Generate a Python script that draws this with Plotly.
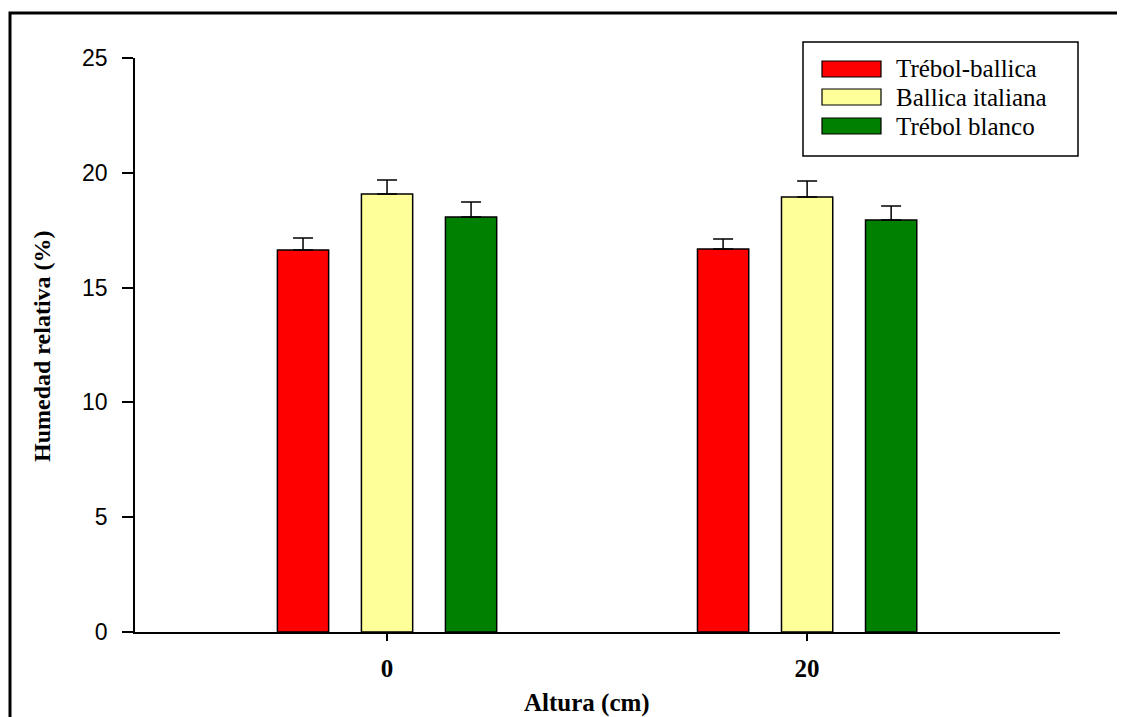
import plotly.graph_objects as go

categories = ["0", "20"]
series_names = ["Trébol-ballica", "Ballica italiana", "Trébol blanco"]
colors = ["#FF0000", "#FFFF99", "#008000"]
values = [
    [16.64, 16.68],
    [19.08, 18.95],
    [18.07, 17.94],
]
errors = [
    [0.52, 0.44],
    [0.61, 0.69],
    [0.66, 0.61],
]
y_ticks = [0, 5, 10, 15, 20, 25]

OFF = 8  # page body margin
W, H = 1125 - OFF, 717 - OFF
# plot area in screen pixels
PX0, PX1, PY0, PY1 = 135, 1060, 58, 632
L, R, T, B = PX0 - OFF, W - (PX1 - OFF), PY0 - OFF, H - (PY1 - OFF)
pw, ph = PX1 - PX0, PY1 - PY0

fig = go.Figure()
for name, col, v, e in zip(series_names, colors, values, errors):
    fig.add_trace(go.Bar(
        x=categories, y=v, name=name,
        marker=dict(color=col, line=dict(color="black", width=1.5)),
        error_y=dict(type="data", array=e, symmetric=False, arrayminus=[0] * len(e),
                     color="black", thickness=1.5, width=10),
        showlegend=False,
    ))

def px_x(x):
    return (x - PX0) / pw

def px_y(y):
    return (PY1 - y) / ph

shapes = [
    dict(type="rect", xref="paper", yref="paper",
         x0=px_x(10), x1=px_x(1140), y0=px_y(13), y1=px_y(740),
         line=dict(color="black", width=3), fillcolor="rgba(0,0,0,0)", layer="below"),
    dict(type="rect", xref="paper", yref="paper",
         x0=px_x(803), x1=px_x(1078), y0=px_y(42), y1=px_y(156),
         line=dict(color="black", width=1.5), fillcolor="white"),
]
annotations = []
row_y = [69, 97, 126]
for name, col, ry in zip(series_names, colors, row_y):
    shapes.append(dict(type="rect", xref="paper", yref="paper",
                       x0=px_x(822), x1=px_x(881), y0=px_y(ry - 8), y1=px_y(ry + 8),
                       line=dict(color="black", width=1.2), fillcolor=col))
    annotations.append(dict(xref="paper", yref="paper", x=px_x(894), y=px_y(ry),
                            text=name, showarrow=False, xanchor="left", yanchor="middle",
                            font=dict(family="Liberation Serif", size=25, color="black")))

annotations.append(dict(xref="paper", yref="paper", x=px_x(587), y=px_y(703),
                        text="<b>Altura (cm)</b>", showarrow=False,
                        xanchor="center", yanchor="middle",
                        font=dict(family="Liberation Serif", size=25, color="black")))
annotations.append(dict(xref="paper", yref="paper", x=px_x(42), y=px_y(346),
                        text="<b>Humedad relativa (%)</b>", showarrow=False, textangle=-90,
                        xanchor="center", yanchor="middle",
                        font=dict(family="Liberation Serif", size=24, color="black")))

fig.update_layout(
    width=W, height=H,
    margin=dict(l=L, r=R, t=T, b=B),
    paper_bgcolor="white", plot_bgcolor="white",
    barmode="group", bargap=0.4, bargroupgap=0.39,
    shapes=shapes, annotations=annotations,
    xaxis=dict(
        type="category", range=[-0.6, 1.602],
        showline=True, linecolor="black", linewidth=1.5,
        ticks="outside", ticklen=7, tickwidth=1.5, tickcolor="black",
        ticklabelstandoff=6,
        tickfont=dict(family="Liberation Serif", size=25, color="black", weight="bold"),
        showgrid=False, zeroline=False,
    ),
    yaxis=dict(
        range=[0, 25], tickvals=y_ticks,
        showline=True, linecolor="black", linewidth=1.5,
        ticks="outside", ticklen=11, tickwidth=1.5, tickcolor="black",
        ticklabelstandoff=10,
        tickfont=dict(family="Liberation Sans", size=23, color="black"),
        showgrid=False, zeroline=False,
    ),
)

fig.write_html("out.html")
